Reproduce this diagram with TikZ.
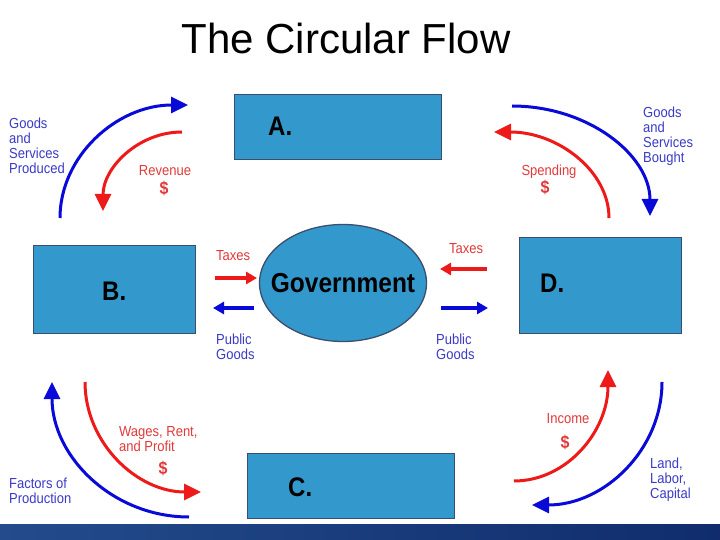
\documentclass[tikz,border=0pt]{standalone}
\usepackage{fontspec}
\setmainfont{Liberation Sans}
\usetikzlibrary{arrows.meta,shapes.geometric}
\definecolor{boxfill}{HTML}{3399CC}
\definecolor{boxline}{HTML}{3A4E6E}
\definecolor{arrblue}{HTML}{0A0AD8}
\definecolor{arrred}{HTML}{EE1A1A}
\definecolor{txtblue}{HTML}{3B3BC8}
\definecolor{txtred}{HTML}{E23A3A}
\definecolor{bandleft}{HTML}{234C8C}
\definecolor{bandright}{HTML}{102C6C}
\newcommand\tallstack[1]{\scalebox{1}[1.12]{\begin{tabular}{@{}l@{}}#1\end{tabular}}}
\newcommand\tall[1]{\scalebox{1}[1.12]{#1}}
\begin{document}
\begin{tikzpicture}[x=1pt,y=-1pt,
  sector/.style={draw=boxline,line width=1.3pt,fill=boxfill,anchor=north west,inner sep=0pt},
  boxlabel/.style={font=\bfseries\fontsize{24}{24}\selectfont,inner sep=0pt,anchor=base west},
  flowblue/.style={draw=arrblue,line width=3pt,-{Triangle[length=17pt,width=16pt]}},
  flowred/.style={draw=arrred,line width=3pt,-{Triangle[length=17pt,width=16pt]}},
  govblue/.style={draw=arrblue,line width=3.5pt,-{Triangle[length=11pt,width=12pt]}},
  govred/.style={draw=arrred,line width=3.5pt,-{Triangle[length=11pt,width=12pt]}},
  bluetxt/.style={text=txtblue,font=\fontsize{13}{13}\selectfont,inner sep=0pt,anchor=north west},
  redtxt/.style={text=txtred,font=\fontsize{13}{13}\selectfont,inner sep=0pt,anchor=north west},
  dollar/.style={text=txtred,font=\bfseries\fontsize{16}{16}\selectfont,inner sep=0pt,anchor=north}
]
\useasboundingbox (0,0) rectangle (720,540);
\fill[white] (0,0) rectangle (720,540);
\shade[left color=bandleft,right color=bandright] (0,524) rectangle (720,540);

% title
\node[inner sep=0pt,anchor=base,font=\fontsize{42}{42}\selectfont] (title) at (346,54) {The Circular Flow};

% sectors
\node[sector,minimum width=207pt,minimum height=65pt] (A) at (234,94) {};
\node[sector,minimum width=162pt,minimum height=88pt] (B) at (33,245) {};
\node[sector,minimum width=207pt,minimum height=65pt] (C) at (247,453) {};
\node[sector,minimum width=162pt,minimum height=96pt] (D) at (519,237) {};
\node[boxlabel] (Alab) at (268,136) {\tall{A.}};
\node[boxlabel] (Blab) at (102,300) {\tall{B.}};
\node[boxlabel] (Clab) at (288,496) {\tall{C.}};
\node[boxlabel] (Dlab) at (540,292) {\tall{D.}};

% government
\node[ellipse,draw=boxline,line width=1.3pt,fill=boxfill,minimum width=167pt,minimum height=117pt] (gov) at (343,283) {};
\node[inner sep=0pt,anchor=base,font=\bfseries\fontsize{24.5}{24.5}\selectfont] (govlab) at (343,292) {\tall{Government}};

% coordinates for the flows
\coordinate (tlbS) at (60,218);  \coordinate (tlbE) at (188,105);
\coordinate (tlrS) at (182,132); \coordinate (tlrE) at (103,211);
\coordinate (trbS) at (512,106); \coordinate (trbE) at (650,216);
\coordinate (trrS) at (609,218); \coordinate (trrE) at (494,132);
\coordinate (blbS) at (189,517); \coordinate (blbE) at (52,382);
\coordinate (blrS) at (85,382);  \coordinate (blrE) at (201,492);
\coordinate (brrS) at (514,481); \coordinate (brrE) at (608,370);
\coordinate (brbS) at (662,382); \coordinate (brbE) at (532,505);

\draw[flowblue] (tlbS) .. controls (60,156) and (117,105) .. (tlbE);
\draw[flowred]  (tlrS) .. controls (138,132) and (103,168) .. (tlrE);
\draw[flowblue] (trbS) .. controls (588,106) and (650,155) .. (trbE);
\draw[flowred]  (trrS) .. controls (609,171) and (558,132) .. (trrE);
\draw[flowblue] (blbS) .. controls (113,517) and (52,457) .. (blbE);
\draw[flowred]  (blrS) .. controls (85,443) and (137,492) .. (blrE);
\draw[flowred]  (brrS) .. controls (567,481) and (608,431) .. (brrE);
\draw[flowblue] (brbS) .. controls (662,450) and (604,505) .. (brbE);

% government flows
\coordinate (ltS) at (215,278); \coordinate (ltE) at (257,278);
\coordinate (lpS) at (254,308); \coordinate (lpE) at (213,308);
\coordinate (rtS) at (487,269); \coordinate (rtE) at (440,269);
\coordinate (rpS) at (441,308); \coordinate (rpE) at (488,308);
\draw[govred]  (ltS) -- (ltE);
\draw[govblue] (lpS) -- (lpE);
\draw[govred]  (rtS) -- (rtE);
\draw[govblue] (rpS) -- (rpE);

% labels
\node[bluetxt] (gsp) at (9,118) {\tallstack{Goods\\and\\Services\\Produced}};
\node[redtxt,anchor=north] (rev) at (165,165) {\tall{Revenue}};
\node[dollar] (revd) at (164,181) {\tall{\$}};
\node[bluetxt] (gsb) at (643,107) {\tallstack{Goods\\and\\Services\\Bought}};
\node[redtxt,anchor=north] (spe) at (549,165) {\tall{Spending}};
\node[dollar] (sped) at (545,180) {\tall{\$}};
\node[redtxt] (taxl) at (216,250) {\tall{Taxes}};
\node[redtxt] (taxr) at (449,243) {\tall{Taxes}};
\node[bluetxt] (pgl) at (216,334) {\tallstack{Public\\Goods}};
\node[bluetxt] (pgr) at (436,334) {\tallstack{Public\\Goods}};
\node[redtxt] (wrp) at (119,426) {\tallstack{Wages, Rent,\\and Profit}};
\node[dollar] (wrpd) at (163,461) {\tall{\$}};
\node[bluetxt] (fop) at (9,478) {\tallstack{Factors of\\Production}};
\node[redtxt,anchor=north] (inc) at (568,413) {\tall{Income}};
\node[dollar] (incd) at (565,435) {\tall{\$}};
\node[bluetxt] (llc) at (650,458) {\tallstack{Land,\\Labor,\\Capital}};
\end{tikzpicture}
\end{document}
